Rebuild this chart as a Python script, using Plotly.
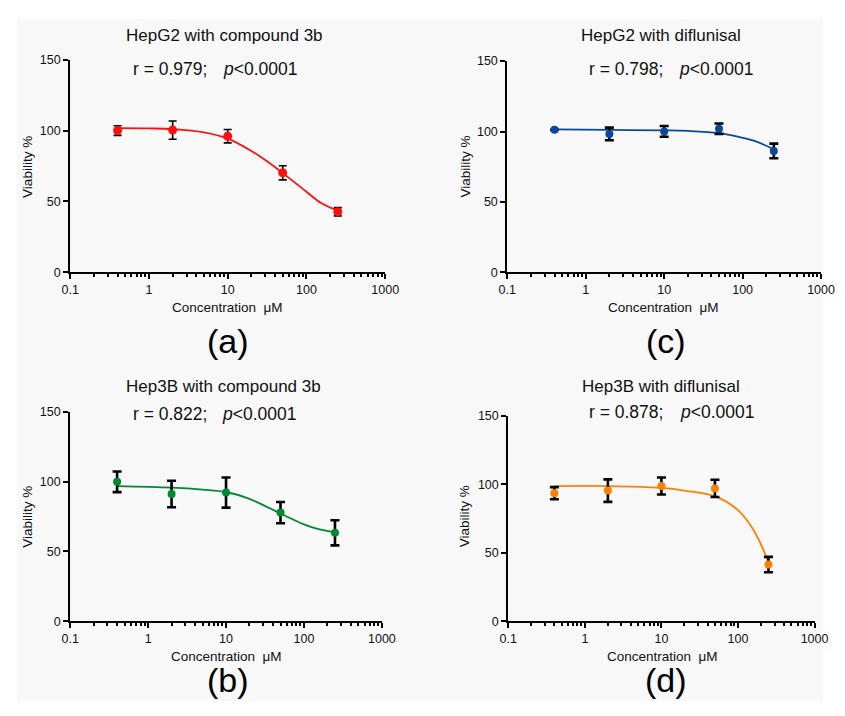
import plotly.graph_objects as go

# page body keeps an 8px margin, so the figure covers reference pixels 8..837 x 8..708
OFF = 8
W, H = 845 - 2 * OFF, 716 - 2 * OFF

# ---------------- data ----------------
conc = [0.4, 2, 10, 50, 250]

a_mean = [100.0, 100.3, 96.0, 70.2, 42.8]
a_err = [3.4, 6.4, 4.7, 5.0, 2.9]
a_fit_x = [0.4, 1, 2, 5, 10, 20, 30, 50, 100, 150, 250]
a_fit_y = [101.7, 101.5, 101.0, 98.7, 94.3, 85.6, 79.2, 70.0, 56.9, 49.3, 43.5]

c_mean = [101.3, 98.3, 100.1, 102.0, 86.2]
c_err = [0.0, 4.5, 3.8, 3.7, 5.2]
c_fit_x = [0.4, 2, 10, 20, 50, 100, 150, 250]
c_fit_y = [101.5, 101.1, 100.8, 100.4, 98.8, 95.5, 92.8, 87.4]

b_mean = [99.8, 91.1, 92.1, 77.8, 63.3]
b_err = [7.4, 9.5, 10.8, 7.6, 9.0]
b_fit_x = [0.4, 2, 5, 10, 20, 50, 100, 150, 250]
b_fit_y = [96.7, 95.6, 94.2, 92.5, 87.6, 77.1, 69.4, 66.1, 63.6]

d_mean = [93.4, 95.3, 98.6, 96.9, 41.4]
d_err = [4.4, 8.2, 6.2, 6.3, 5.6]
d_fit_x = [0.4, 2, 10, 20, 50, 100, 150, 200, 250]
d_fit_y = [98.6, 98.6, 97.2, 95.3, 91.2, 81.0, 68.9, 56.0, 42.9]

titles = ["HepG2 with compound 3b", "HepG2 with diflunisal",
          "Hep3B with compound 3b", "Hep3B with diflunisal"]
r_texts = ["r = 0.979;", "r = 0.798;", "r = 0.822;", "r = 0.878;"]
p_text = "<i>p</i>&lt;0.0001"
letters = ["(a)", "(c)", "(b)", "(d)"]
x_ticks = [0.1, 1, 10, 100, 1000]
x_ticktext = ["0.1", "1", "10", "100", "1000"]
y_ticks = [0, 50, 100, 150]

FONT = "Liberation Sans, Arial, sans-serif"


def px(x):
    return (x - OFF) / W


def py(y):
    return 1 - (y - OFF) / H


panels = [
    dict(mean=a_mean, err=a_err, fx=a_fit_x, fy=a_fit_y, color="#ff1010",
         msize=9, ew=1.6, ecap=4,
         xd=(62.7, 386.7), yd=(53.5, 270.7),
         title=(221.7, 29), r=(125, 62.7), p=(218.3, 62.7),
         xt=(225, 306.7), yt=(19.3, 163), letter=(225, 341)),
    dict(mean=c_mean, err=c_err, fx=c_fit_x, fy=c_fit_y, color="#0a47a0",
         msize=8, ew=2.6, ecap=4.5,
         xd=(512.3, 835), yd=(55, 270.7),
         title=(670, 29), r=(594, 62.7), p=(686.7, 62.7),
         xt=(673.3, 306.7), yt=(469.3, 163), letter=(676, 341)),
    dict(mean=b_mean, err=b_err, fx=b_fit_x, fy=b_fit_y, color="#008a30",
         msize=8, ew=2.6, ecap=4.5,
         xd=(62.7, 383.3), yd=(412.7, 626.7),
         title=(220, 386.7), r=(125, 415), p=(217.3, 415),
         xt=(223, 662.7), yt=(19.3, 520), letter=(225, 687)),
    dict(mean=d_mean, err=d_err, fx=d_fit_x, fy=d_fit_y, color="#ff8000",
         msize=8, ew=2.6, ecap=4.5,
         xd=(513.3, 828.3), yd=(416.7, 626.7),
         title=(670, 387.3), r=(594.7, 413.3), p=(687.7, 413.3),
         xt=(671.7, 662.7), yt=(468.3, 520), letter=(676, 687)),
]

fig = go.Figure()
annotations = []
layout_axes = {}

for i, pn in enumerate(panels):
    n = "" if i == 0 else str(i + 1)
    xa, ya = "x" + n, "y" + n
    fig.add_trace(go.Scatter(
        x=pn["fx"], y=pn["fy"], xaxis=xa, yaxis=ya, mode="lines",
        line=dict(color=pn["color"], width=1.8, shape="spline", smoothing=1.0),
        showlegend=False, hoverinfo="skip"))
    fig.add_trace(go.Scatter(
        x=conc, y=pn["mean"], xaxis=xa, yaxis=ya, mode="markers",
        marker=dict(color=pn["color"], size=pn["msize"]),
        error_y=dict(type="data", array=pn["err"], visible=True,
                     color="black", thickness=pn["ew"], width=pn["ecap"]),
        showlegend=False, cliponaxis=False))

    layout_axes["xaxis" + n] = dict(
        type="log", range=[-1, 3], anchor=ya,
        domain=[px(pn["xd"][0]), min(1, px(pn["xd"][1]))],
        tickmode="array", tickvals=x_ticks, ticktext=x_ticktext,
        ticks="outside", ticklen=5, tickwidth=1.5, tickcolor="black",
        minor=dict(ticks="outside", ticklen=3, tickwidth=1.5,
                   tickcolor="black",
                   tickvals=[m * 10 ** e for e in (-1, 0, 1, 2)
                             for m in range(2, 10)]),
        showline=True, linecolor="black", linewidth=2,
        showgrid=False, zeroline=False,
        tickfont=dict(family=FONT, size=12.5, color="#111"))
    layout_axes["yaxis" + n] = dict(
        range=[0, 150], anchor=xa,
        domain=[py(pn["yd"][1]), py(pn["yd"][0])],
        tickmode="array", tickvals=y_ticks,
        ticks="outside", ticklen=5, tickwidth=1.5, tickcolor="black",
        showline=True, linecolor="black", linewidth=2,
        showgrid=False, zeroline=False,
        tickfont=dict(family=FONT, size=12.5, color="#111"))

    annotations += [
        dict(text=titles[i], x=px(pn["title"][0]), y=py(pn["title"][1]),
             xref="paper", yref="paper", xanchor="center", yanchor="middle",
             showarrow=False, font=dict(family=FONT, size=17, color="#111")),
        dict(text=r_texts[i], x=px(pn["r"][0]), y=py(pn["r"][1]),
             xref="paper", yref="paper", xanchor="left", yanchor="middle",
             showarrow=False, font=dict(family=FONT, size=17.5, color="#111")),
        dict(text=p_text, x=px(pn["p"][0]), y=py(pn["p"][1]),
             xref="paper", yref="paper", xanchor="left", yanchor="middle",
             showarrow=False, font=dict(family=FONT, size=17.5, color="#111")),
        dict(text="Concentration&nbsp;&nbsp;μM", x=px(pn["xt"][0]),
             y=py(pn["xt"][1]), xref="paper", yref="paper",
             xanchor="center", yanchor="middle", showarrow=False,
             font=dict(family=FONT, size=13.5, color="#111")),
        dict(text="Viability %", x=px(pn["yt"][0]), y=py(pn["yt"][1]),
             xref="paper", yref="paper", xanchor="center", yanchor="middle",
             textangle=-90, showarrow=False,
             font=dict(family=FONT, size=13.5, color="#111")),
        dict(text=letters[i], x=px(pn["letter"][0]), y=py(pn["letter"][1]),
             xref="paper", yref="paper", xanchor="center", yanchor="middle",
             showarrow=False, font=dict(family=FONT, size=34, color="#000")),
    ]

fig.update_layout(
    width=W, height=H, autosize=False,
    margin=dict(l=0, r=0, t=0, b=0),
    paper_bgcolor="white", plot_bgcolor="rgba(0,0,0,0)",
    annotations=annotations,
    shapes=[dict(type="rect", xref="paper", yref="paper", layer="below",
                 x0=0, x1=1, y0=0, y1=py(12),
                 fillcolor="#f8f8f8", line=dict(width=0))],
    **layout_axes)

fig.write_html("out.html", config={"displayModeBar": False})
